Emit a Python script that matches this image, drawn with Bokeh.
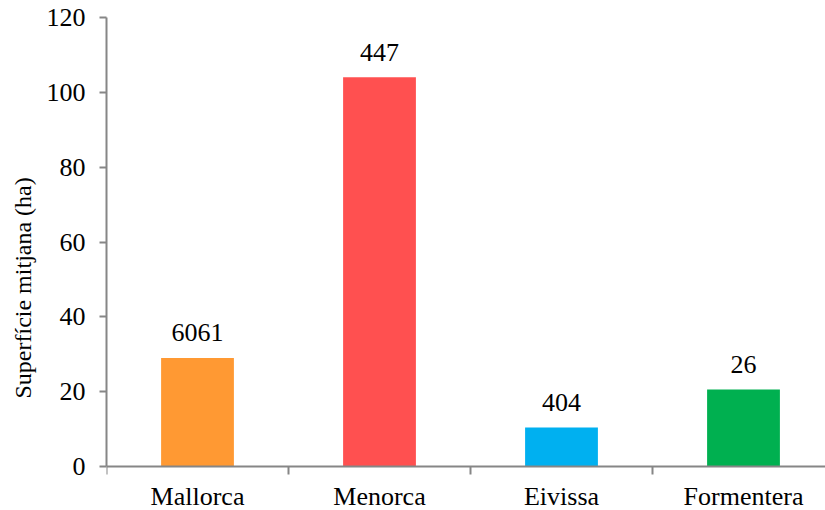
from bokeh.plotting import figure
from bokeh.models import ColumnDataSource, Range1d, FixedTicker, Title
from bokeh.core.properties import value
from bokeh.embed import file_html
from bokeh.resources import INLINE

# Average plot area per island (ha) and number of plots per island
islands = ["Mallorca", "Menorca", "Eivissa", "Formentera"]
mean_area = [29.0, 104.0, 10.4, 20.6]
counts = [6061, 447, 404, 26]
colors = ["#FF9933", "#FF5050", "#00B0F0", "#00B050"]
y_ticks = [0, 20, 40, 60, 80, 100, 120]
y_title = "Superfície mitjana (ha)"

FONT = "Liberation Serif"
AXIS_GRAY = "#868686"

centers = [i + 0.5 for i in range(len(islands))]
source = ColumnDataSource(dict(
    x=centers,
    top=mean_area,
    label=[str(c) for c in counts],
    color=colors,
))

# frame runs to the bottom edge; the space under y=0 holds the island names
PX_PER_UNIT = 449 / 120
p = figure(
    width=825, height=510,
    output_backend="svg", toolbar_location=None,
    x_range=Range1d(0, 719 / 182), y_range=Range1d(-44 / PX_PER_UNIT, 120),
    min_border_left=106, min_border_right=0,
    min_border_top=17, min_border_bottom=0,
)
p.outline_line_color = None
p.xgrid.visible = False
p.ygrid.visible = False
p.background_fill_color = "white"
p.border_fill_color = "white"

p.vbar(x="x", top="top", width=0.4, bottom=0, color="color", line_color=None, source=source)
p.text(x="x", y="top", text="label", source=source,
       text_font=value(FONT), text_font_size="26px", text_color="#000000",
       text_align="center", text_baseline="alphabetic", y_offset=-25)

# category axis at y=0: boundary ticks between islands, names centred
xa = p.xaxis[0]
xa.fixed_location = 0
xa.ticker = FixedTicker(ticks=centers, minor_ticks=list(range(len(islands) + 1)))
xa.major_label_overrides = {c: name for c, name in zip(centers, islands)}
xa.major_label_text_font = FONT
xa.major_label_text_font_size = "26px"
xa.major_label_text_color = "#000000"
xa.major_label_standoff = 7
xa.major_tick_in = 0
xa.major_tick_out = 0
xa.minor_tick_in = 0
xa.minor_tick_out = 8
xa.minor_tick_line_color = AXIS_GRAY
xa.minor_tick_line_width = 2
xa.axis_line_color = AXIS_GRAY
xa.axis_line_width = 2

ya = p.yaxis[0]
ya.bounds = (0, 120)
ya.ticker = FixedTicker(ticks=y_ticks, minor_ticks=[])
ya.major_tick_in = 0
ya.major_tick_out = 7
ya.major_tick_line_color = AXIS_GRAY
ya.major_tick_line_width = 2
ya.axis_line_color = AXIS_GRAY
ya.axis_line_width = 2
ya.major_label_text_font = FONT
ya.major_label_text_font_size = "26px"
ya.major_label_text_color = "#000000"
ya.major_label_standoff = 14

# vertical axis title, starting 112px above the bottom edge
p.add_layout(Title(text=y_title, align="left", offset=112, standoff=15,
                   text_font=FONT, text_font_size="24px", text_font_style="normal",
                   text_color="#000000"), "left")

open("out.html", "w").write(file_html(p, INLINE))
